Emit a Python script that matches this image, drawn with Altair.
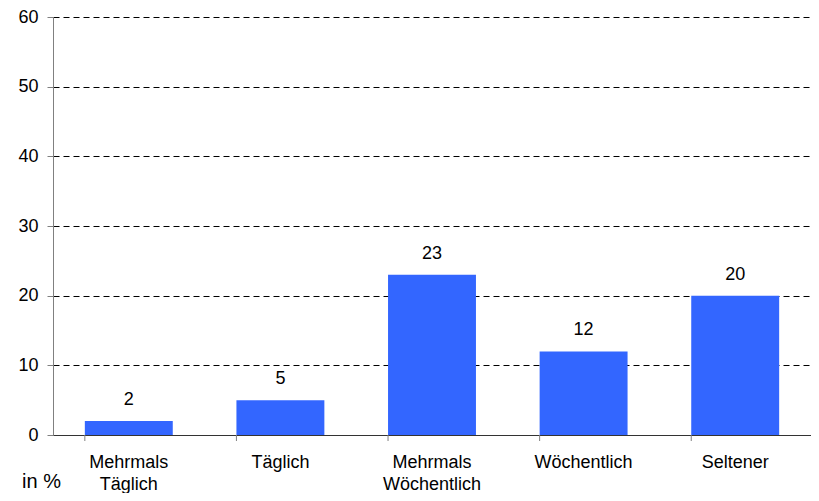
import altair as alt
import pandas as pd

categories = ["Mehrmals|Täglich", "Täglich", "Mehrmals|Wöchentlich", "Wöchentlich", "Seltener"]
values = [2, 5, 23, 12, 20]
y_ticks = [0, 10, 20, 30, 40, 50, 60]

df = pd.DataFrame({"cat": categories, "val": values})

FONT = "Liberation Sans"
W, H = 758, 418

xscale = alt.Scale(domain=categories, paddingInner=0.42, paddingOuter=0.21)

base = alt.Chart(df)

bars = base.mark_bar(color="#3366FF").encode(
    x=alt.X("cat:N", sort=categories, scale=xscale,
            axis=alt.Axis(title=None, labelAngle=0, labelExpr="split(datum.label, '|')",
                          labelFont=FONT, labelFontSize=18, labelColor="#000",
                          labelLineHeight=22, labelBaseline="top", labelPadding=18,
                          ticks=False, tickSize=0, domainColor="#333", domainWidth=1)),
    y=alt.Y("val:Q", scale=alt.Scale(domain=[0, 60], nice=False),
            axis=alt.Axis(values=y_ticks, title="in %", titleAngle=0, titleX=-12, titleY=464,
                          titleAlign="center", titleBaseline="middle", titleFont=FONT,
                          titleFontSize=20, titleFontWeight="normal", titleColor="#000",
                          labelFont=FONT, labelFontSize=18, labelColor="#000", labelPadding=9,
                          tickSize=6, tickColor="#808080", domainColor="#808080",
                          grid=True, gridColor="#000", gridDash=[6, 4], gridWidth=1)),
)

texts = base.mark_text(font=FONT, fontSize=18, color="#000", baseline="alphabetic", dy=-16).encode(
    x=alt.X("cat:N", sort=categories),
    y="val:Q",
    text="val:Q",
)

ticks = base.mark_rule(color="#808080").encode(
    x=alt.X("cat:N", sort=categories, bandPosition=0),
    y=alt.value(H),
    y2=alt.value(H + 6),
)

chart = alt.layer(bars, texts, ticks).properties(
    width=W, height=H,
    autosize=alt.AutoSizeParams(type="none"),
    padding={"left": 45, "top": 9, "right": 0, "bottom": 58},
).configure_view(stroke=None)

chart.save("out.html", embed_options={"renderer": "svg", "actions": False})
